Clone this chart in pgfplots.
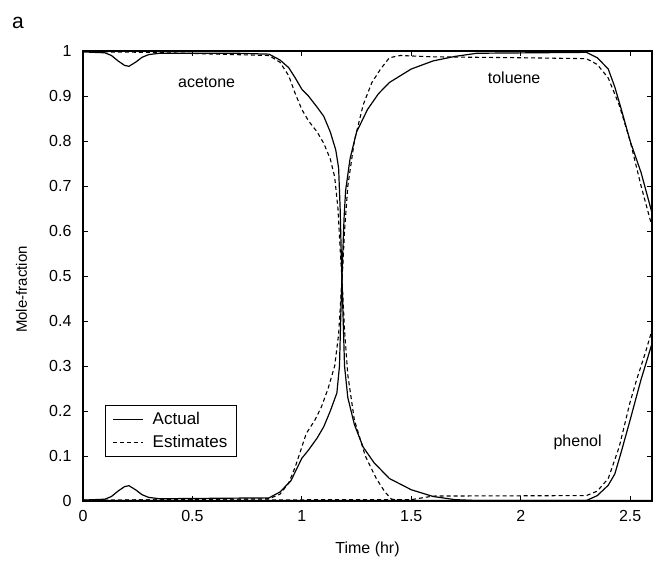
\documentclass[border=0pt]{standalone}
\usepackage{pgfplots}
\pgfplotsset{compat=1.18}
\usepackage{fontspec}
\setmainfont{Liberation Sans}
\begin{document}
\begin{tikzpicture}
\useasboundingbox (-83pt,-59pt) rectangle (572pt,501pt);
\begin{axis}[
  scale only axis, width=569pt, height=450pt,
  at={(0,0)}, anchor=south west,
  xmin=0, xmax=2.6, ymin=0, ymax=1,
  xtick={0,0.5,1,1.5,2,2.5},
  ytick={0,0.1,0.2,0.3,0.4,0.5,0.6,0.7,0.8,0.9,1},
  tick align=inside, major tick length=5pt,
  tick style={black, line width=0.9pt},
  axis line style={line width=1.5pt},
  /pgf/number format/assume math mode=true,
  ticklabel style={font=\fontsize{16}{18}\selectfont},
  xticklabel style={yshift=-6pt},
  yticklabel style={xshift=-8pt},
  xlabel={Time (hr)}, ylabel={Mole-fraction},
  xlabel style={font=\fontsize{16}{18}\selectfont, at={(axis description cs:0.5,-0.108)}, anchor=center},
  ylabel style={font=\fontsize{15}{17}\selectfont, at={(axis description cs:-0.108,0.47)}, anchor=center},
  legend style={at={(axis cs:0.1,0.213)}, anchor=north west, draw=black, line width=0.9pt,
    font=\fontsize{17}{19}\selectfont, inner xsep=7pt, inner ysep=5pt, row sep=5pt},
  legend cell align=left,
  legend image code/.code={\draw[#1] (0pt,0pt) -- (30pt,0pt);},
  clip=true,
]
\addlegendimage{black, line width=1.4pt}
\addlegendentry{\hspace{7pt}Actual}
\addlegendimage{black, line width=1.1pt, dash pattern=on 4pt off 3pt}
\addlegendentry{\hspace{7pt}Estimates}

% acetone actual
\addplot[black, line width=1.2pt, forget plot] coordinates {
(0,0.998)(0.05,0.997)(0.1,0.996)(0.13,0.99)(0.16,0.978)(0.19,0.968)(0.21,0.966)(0.24,0.975)(0.27,0.986)(0.3,0.992)(0.35,0.995)(0.5,0.995)(0.7,0.995)(0.85,0.993)(0.9,0.98)(0.94,0.963)(0.97,0.94)(1.0,0.915)(1.03,0.9)(1.07,0.875)(1.1,0.855)(1.13,0.82)(1.155,0.78)(1.168,0.74)(1.175,0.65)(1.18,0.55)(1.186,0.45)(1.195,0.3)(1.21,0.23)(1.24,0.17)(1.28,0.12)(1.33,0.085)(1.4,0.05)(1.5,0.025)(1.6,0.01)(1.7,0.003)(1.8,0.001)(2.6,0.001)};
% toluene actual
\addplot[black, line width=1.2pt, forget plot] coordinates {
(0,0.002)(0.1,0.004)(0.13,0.01)(0.16,0.022)(0.19,0.032)(0.21,0.034)(0.24,0.025)(0.27,0.014)(0.3,0.008)(0.35,0.005)(0.85,0.007)(0.9,0.02)(0.95,0.045)(0.98,0.075)(1.0,0.095)(1.03,0.113)(1.07,0.14)(1.1,0.165)(1.13,0.2)(1.16,0.24)(1.172,0.3)(1.18,0.45)(1.187,0.55)(1.193,0.63)(1.2,0.69)(1.22,0.76)(1.25,0.82)(1.3,0.87)(1.35,0.905)(1.4,0.93)(1.5,0.96)(1.6,0.978)(1.7,0.988)(1.8,0.995)(2.3,0.997)(2.35,0.985)(2.4,0.96)(2.43,0.92)(2.46,0.87)(2.5,0.8)(2.55,0.73)(2.6,0.64)};
% phenol actual
\addplot[black, line width=1.2pt, forget plot] coordinates {
(0,0.001)(2.3,0.001)(2.35,0.012)(2.4,0.035)(2.43,0.06)(2.46,0.11)(2.5,0.18)(2.55,0.27)(2.6,0.35)};

% acetone estimate
\addplot[black, line width=1.1pt, dash pattern=on 4pt off 3pt, forget plot] coordinates {
(0,1.0)(0.1,0.998)(0.3,0.997)(0.85,0.99)(0.9,0.975)(0.94,0.945)(0.97,0.905)(1.0,0.87)(1.03,0.845)(1.07,0.82)(1.1,0.795)(1.13,0.76)(1.15,0.72)(1.165,0.65)(1.175,0.56)(1.185,0.48)(1.195,0.38)(1.21,0.28)(1.24,0.18)(1.29,0.1)(1.34,0.05)(1.38,0.02)(1.41,0.004)(1.5,0.001)(2.6,0.001)};
% toluene estimate
\addplot[black, line width=1.1pt, dash pattern=on 4pt off 3pt, forget plot] coordinates {
(0,0.001)(0.85,0.005)(0.9,0.015)(0.94,0.04)(0.97,0.076)(1.0,0.12)(1.02,0.15)(1.06,0.18)(1.09,0.21)(1.12,0.25)(1.15,0.3)(1.168,0.37)(1.178,0.45)(1.187,0.52)(1.195,0.6)(1.21,0.7)(1.24,0.8)(1.28,0.88)(1.32,0.93)(1.36,0.96)(1.4,0.985)(1.45,0.99)(1.6,0.987)(2.0,0.985)(2.3,0.983)(2.35,0.97)(2.4,0.94)(2.45,0.88)(2.5,0.8)(2.55,0.7)(2.6,0.61)};
% phenol estimate
\addplot[black, line width=1.1pt, dash pattern=on 4pt off 3pt, forget plot] coordinates {
(0,0.002)(1.5,0.003)(1.6,0.011)(2.3,0.012)(2.35,0.022)(2.4,0.05)(2.45,0.12)(2.48,0.18)(2.5,0.22)(2.53,0.27)(2.57,0.33)(2.6,0.38)};

\node[font=\fontsize{16}{18}\selectfont] at (axis cs:0.565,0.93) {acetone};
\node[font=\fontsize{16}{18}\selectfont] at (axis cs:1.97,0.94) {toluene};
\node[font=\fontsize{16}{18}\selectfont] at (axis cs:2.26,0.13) {phenol};
\end{axis}
\node[font=\fontsize{21}{23}\selectfont] at (-65pt,478pt) {a};
\end{tikzpicture}
\end{document}
